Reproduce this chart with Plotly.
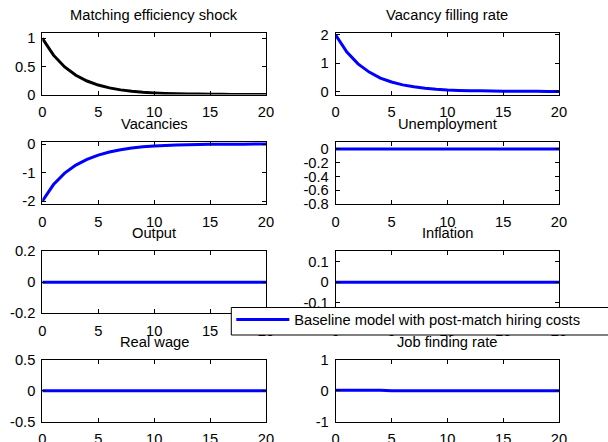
import plotly.graph_objects as go

# ---------------- data ----------------
periods = list(range(21))

shock = [1.0, 0.70, 0.49, 0.343, 0.240, 0.168, 0.118, 0.082, 0.058, 0.040,
         0.028, 0.020, 0.014, 0.010, 0.007, 0.005, 0.003, 0.002, 0.002, 0.001, 0.001]
vacancy_filling = [2.0, 1.40, 0.98, 0.69, 0.48, 0.34, 0.24, 0.17, 0.12, 0.085,
                   0.06, 0.045, 0.035, 0.028, 0.022, 0.018, 0.015, 0.013, 0.011, 0.010, 0.009]
vacancies = [-2.0, -1.42, -1.02, -0.74, -0.54, -0.39, -0.28, -0.20, -0.14, -0.10,
             -0.07, -0.05, -0.035, -0.025, -0.018, -0.013, -0.009, -0.007, -0.005, -0.004, -0.003]
unemployment = [0.0] * 21
output = [0.0] * 21
inflation = [0.0] * 21
real_wage = [0.0] * 21
job_finding = [0.02, 0.02, 0.02, 0.02, 0.02, 0.0, 0.0, 0.0, 0.0, 0.0,
               0.0, 0.0, 0.0, 0.0, 0.0, 0.0, 0.0, 0.0, 0.0, 0.0, 0.0]

titles = ["Matching efficiency shock", "Vacancy filling rate", "Vacancies", "Unemployment",
          "Output", "Inflation", "Real wage", "Job finding rate"]
series = [shock, vacancy_filling, vacancies, unemployment, output, inflation, real_wage, job_finding]
legend_name = "Baseline model with post-match hiring costs"

x_tickvals = [0, 5, 10, 15, 20]
y_tickvals = [[0, 0.5, 1], [0, 1, 2], [-2, -1, 0], [-0.8, -0.6, -0.4, -0.2, 0],
              [-0.2, 0, 0.2], [-0.1, 0, 0.1], [-0.5, 0, 0.5], [-1, 0, 1]]
y_ticktext = [["0", "0.5", "1"], ["0", "1", "2"], ["-2", "-1", "0"],
              ["-0.8", "-0.6", "-0.4", "-0.2", "0"], ["-0.2", "0", "0.2"],
              ["-0.1", "0", "0.1"], ["-0.5", "0", "0.5"], ["-1", "0", "1"]]
y_ranges = [[0, 1.1], [-0.1, 2.08], [-2.1, 0.07], [-0.8, 0.1],
            [-0.2, 0.2], [-0.15, 0.15], [-0.5, 0.5], [-1, 1]]

# ---------------- layout geometry ----------------
W, H = 608, 442
col_px = [(42.3, 266.0), (335.7, 559.0)]
row_px = [(32.7, 94.5), (142.0, 204.0), (251.0, 313.3), (360.0, 421.7)]
legend_box_px = (231.3, 307.5, 640.0, 335.0)  # left, top, right, bottom

FONT = "Arial, Liberation Sans, sans-serif"
FS = 14.7

fig = go.Figure()
annotations = []
layout_axes = {}
for i in range(8):
    r, c = divmod(i, 2)
    xd = [col_px[c][0] / W, col_px[c][1] / W]
    yd = [1 - row_px[r][1] / H, 1 - row_px[r][0] / H]
    n = "" if i == 0 else str(i + 1)
    color = "black" if i == 0 else "#0000ff"
    fig.add_trace(go.Scatter(
        x=periods, y=series[i], mode="lines",
        line=dict(color=color, width=3, simplify=False),
        name=legend_name if i > 0 else titles[0],
        legendgroup="base" if i > 0 else "shock",
        showlegend=(i == 1),
        xaxis="x" + n, yaxis="y" + n,
    ))
    common = dict(showline=True, linecolor="black", linewidth=1, mirror="ticks",
                  ticks="inside", ticklen=4, tickcolor="black", tickwidth=1,
                  showgrid=False, zeroline=False, automargin=False,
                  tickfont=dict(family=FONT, size=FS, color="black"))
    layout_axes["xaxis" + n] = dict(domain=xd, anchor="y" + n, range=[0, 20],
                                    tickvals=x_tickvals, ticklabelstandoff=4, **common)
    layout_axes["yaxis" + n] = dict(domain=yd, anchor="x" + n, range=y_ranges[i],
                                    tickvals=y_tickvals[i], ticktext=y_ticktext[i],
                                    ticklabelstandoff=3, **common)
    annotations.append(dict(text=titles[i], x=(xd[0] + xd[1]) / 2, y=yd[1],
                            xref="paper", yref="paper", xanchor="center", yanchor="bottom",
                            yshift=8, showarrow=False,
                            font=dict(family=FONT, size=FS, color="black")))

# legend frame (white box with black border, running off the right edge)
lb = legend_box_px
legend_frame = dict(type="rect", xref="paper", yref="paper", layer="above",
                    x0=lb[0] / W, x1=lb[2] / W, y0=1 - lb[3] / H, y1=1 - lb[1] / H,
                    fillcolor="white", line=dict(color="black", width=1))

fig.update_layout(
    width=W, height=H,
    margin=dict(l=0, r=0, t=0, b=0, autoexpand=False),
    paper_bgcolor="white", plot_bgcolor="white",
    annotations=annotations,
    shapes=[legend_frame],
    showlegend=True,
    legend=dict(x=lb[0] / W, y=1 - 303.5 / H, xanchor="left", yanchor="top",
                itemwidth=53,
                bgcolor="rgba(0,0,0,0)", borderwidth=0,
                font=dict(family=FONT, size=FS, color="black")),
    **layout_axes,
)

fig.write_html("out.html")
